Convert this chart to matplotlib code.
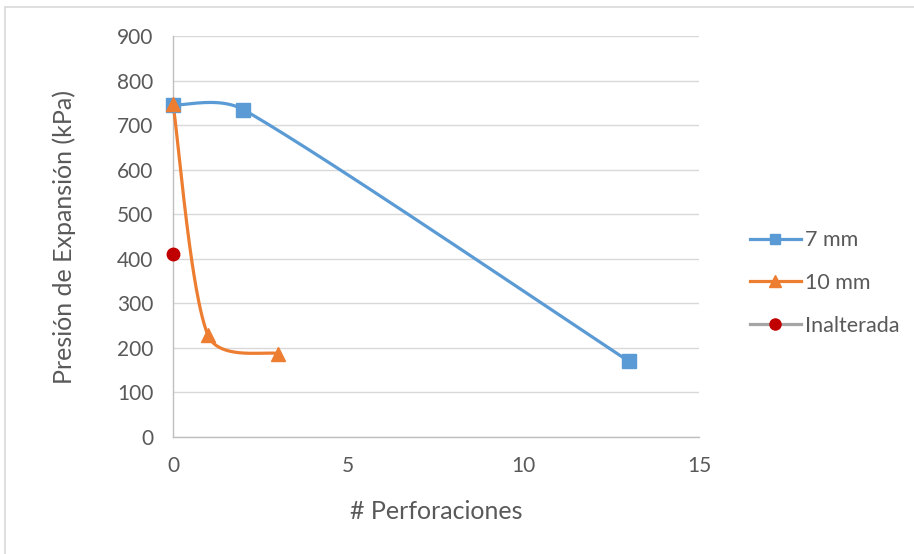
import numpy as np
import matplotlib
matplotlib.use("Agg")
import matplotlib.pyplot as plt
from matplotlib.patches import Rectangle

plt.rcParams['font.family'] = ['Lato', 'DejaVu Sans']

# Series data
x_7mm = [0, 2, 13]
y_7mm = [745, 735, 170]
x_10mm = [0, 1, 3]
y_10mm = [748, 228, 187]
x_inalt = [0]
y_inalt = [410]

x_ticks = [0, 5, 10, 15]
y_ticks = [0, 100, 200, 300, 400, 500, 600, 700, 800, 900]

BLUE = "#5B9BD5"
ORANGE = "#ED7D31"
RED = "#C00000"
GRAY = "#A5A5A5"
TXT = "#595959"

W, H = 914, 554
fig = plt.figure(figsize=(W / 100, H / 100), dpi=100)
ax = fig.add_axes([173 / W, 1 - 437 / H, (699 - 173) / W, (437 - 36) / H])
ax.set_xlim(0, 15)
ax.set_ylim(0, 900)

# frame around the chart area
fig.patches.append(Rectangle((5 / W, -0.05), 1.2, 1 - 7 / H + 0.05,
                             transform=fig.transFigure, fill=False,
                             edgecolor="#d9d9d9", linewidth=1.2))


def smooth(xs, ys, sx, sy, n=80, f=1.15):
    """Bezier smoothing in screen-like space; each handle is the smaller of a
    Catmull-Rom handle and a chord-length based handle."""
    P = np.column_stack([np.asarray(xs, float) * sx, np.asarray(ys, float) * sy])
    m = len(P)
    tang, crlen = [], []
    for i in range(m):
        d = P[min(i + 1, m - 1)] - P[max(i - 1, 0)]
        tang.append(d / np.linalg.norm(d))
        crlen.append(np.linalg.norm(d) / 6.0)
    out = []
    t = np.linspace(0, 1, n)[:, None]
    for i in range(m - 1):
        p1, p2 = P[i], P[i + 1]
        chord = np.linalg.norm(p2 - p1) / 3.0 * f
        c1 = p1 + tang[i] * min(chord, crlen[i])
        c2 = p2 - tang[i + 1] * min(chord, crlen[i + 1])
        seg = ((1 - t) ** 3) * p1 + 3 * ((1 - t) ** 2) * t * c1 + 3 * (1 - t) * t ** 2 * c2 + t ** 3 * p2
        out.append(seg if i == 0 else seg[1:])
    out = np.vstack(out)
    return out[:, 0] / sx, out[:, 1] / sy


sx = (699 - 173) / 15.0
sy = (437 - 36) / 900.0

sx7, sy7 = smooth(x_7mm, y_7mm, sx, sy)
sx10, sy10 = smooth(x_10mm, y_10mm, sx, sy)

ax.plot(sx7, sy7, color=BLUE, lw=2.3, solid_capstyle="round", zorder=3, clip_on=False)
ax.plot(x_7mm, y_7mm, linestyle="none", marker="s", ms=10, color=BLUE, zorder=4, clip_on=False)
ax.plot(sx10, sy10, color=ORANGE, lw=2.3, solid_capstyle="round", zorder=3, clip_on=False)
ax.plot(x_10mm, y_10mm, linestyle="none", marker="^", ms=10, color=ORANGE, zorder=4, clip_on=False)
ax.plot(x_inalt, y_inalt, linestyle="none", marker="o", ms=9, color=RED, zorder=5, clip_on=False)

# legend entries
h1, = ax.plot([], [], color=BLUE, lw=2.3, marker="s", ms=7)
h2, = ax.plot([], [], color=ORANGE, lw=2.3, marker="^", ms=8)
h3, = ax.plot([], [], color=GRAY, lw=2.3, marker="o", ms=8, markerfacecolor=RED, markeredgecolor=RED)
leg = fig.legend([h1, h2, h3], ["7 mm", "10 mm", "Inalterada"],
                 loc="center left", bbox_to_anchor=(750 / W, 1 - 283 / H),
                 frameon=False, fontsize=15.5, handlelength=2.35, handletextpad=0.22,
                 labelspacing=1.06, borderaxespad=0, borderpad=0)
for t in leg.get_texts():
    t.set_color(TXT)

ax.set_xticks(x_ticks)
ax.set_yticks(y_ticks)
ax.tick_params(axis="both", length=0, labelsize=15, labelcolor=TXT)
ax.tick_params(axis="x", pad=14)
ax.tick_params(axis="y", pad=14)
ax.grid(axis="y", color="#d9d9d9", lw=1)
ax.set_axisbelow(True)
for s in ["top", "right"]:
    ax.spines[s].set_visible(False)
for s in ["left", "bottom"]:
    ax.spines[s].set_color("#bfbfbf")
    ax.spines[s].set_linewidth(1)

ax.set_xlabel("# Perforaciones", fontsize=18, color=TXT, labelpad=17)
ax.set_ylabel("Presión de Expansión (kPa)", fontsize=18, color=TXT, labelpad=30)

fig.savefig("out.png", dpi=100)
